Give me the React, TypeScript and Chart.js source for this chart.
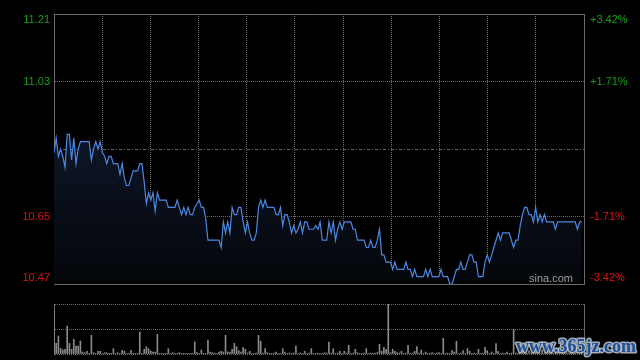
import React, { useEffect, useRef } from "react";
import { Chart, registerables } from "chart.js";

Chart.register(...registerables);

// minute index of the trading day (0..240)
const minutes: number[] = Array.from({ length: 241 }, (_, i) => i);

const prices: number[] = [
  10.83, 10.87, 10.82, 10.84, 10.82, 10.79, 10.88, 10.88, 10.81, 10.87,
  10.80, 10.84, 10.86, 10.86, 10.86, 10.86, 10.86, 10.81, 10.84, 10.86,
  10.84, 10.86, 10.83, 10.82, 10.80, 10.82, 10.82, 10.80, 10.80, 10.80,
  10.77, 10.80, 10.76, 10.74, 10.74, 10.76, 10.78, 10.78, 10.78, 10.80,
  10.80, 10.75, 10.69, 10.72, 10.70, 10.72, 10.67, 10.72, 10.70, 10.70,
  10.70, 10.70, 10.68, 10.68, 10.68, 10.68, 10.70, 10.68, 10.66, 10.68,
  10.66, 10.68, 10.66, 10.66, 10.68, 10.69, 10.70, 10.68, 10.68, 10.65,
  10.59, 10.59, 10.59, 10.59, 10.59, 10.59, 10.57, 10.64, 10.61, 10.64,
  10.61, 10.68, 10.66, 10.66, 10.68, 10.68, 10.64, 10.61, 10.64, 10.61,
  10.59, 10.59, 10.61, 10.68, 10.70, 10.68, 10.70, 10.68, 10.68, 10.68,
  10.68, 10.66, 10.66, 10.68, 10.63, 10.66, 10.66, 10.64, 10.61, 10.63,
  10.61, 10.62, 10.64, 10.61, 10.64, 10.64, 10.62, 10.62, 10.62, 10.63,
  10.62, 10.64, 10.59, 10.59, 10.59, 10.64, 10.61, 10.64, 10.59, 10.62,
  10.64, 10.62, 10.64, 10.64, 10.64, 10.64, 10.62, 10.62, 10.59, 10.59,
  10.59, 10.59, 10.57, 10.57, 10.59, 10.57, 10.57, 10.59, 10.62, 10.55,
  10.55, 10.53, 10.53, 10.53, 10.51, 10.53, 10.51, 10.51, 10.51, 10.51,
  10.53, 10.51, 10.51, 10.49, 10.51, 10.49, 10.49, 10.49, 10.49, 10.51,
  10.49, 10.51, 10.49, 10.49, 10.49, 10.49, 10.51, 10.49, 10.49, 10.49,
  10.47, 10.47, 10.49, 10.51, 10.51, 10.53, 10.51, 10.51, 10.53, 10.55,
  10.55, 10.53, 10.53, 10.49, 10.49, 10.49, 10.53, 10.55, 10.53, 10.55,
  10.57, 10.59, 10.61, 10.59, 10.61, 10.61, 10.61, 10.61, 10.59, 10.57,
  10.59, 10.59, 10.63, 10.66, 10.68, 10.68, 10.66, 10.66, 10.64, 10.68,
  10.64, 10.66, 10.64, 10.66, 10.64, 10.64, 10.64, 10.64, 10.62, 10.64,
  10.64, 10.64, 10.64, 10.64, 10.64, 10.64, 10.64, 10.64, 10.62, 10.64,
  10.64,
];

const volumes: number[] = [
  132, 32, 54, 17, 12, 14, 84, 32, 14, 44,
  24, 24, 39, 6, 4, 8, 2, 56, 4, 2,
  8, 8, 2, 4, 4, 2, 2, 16, 2, 4,
  2, 11, 8, 2, 2, 11, 2, 2, 2, 66,
  2, 14, 22, 16, 9, 6, 6, 59, 2, 2,
  2, 2, 16, 2, 4, 2, 2, 4, 2, 2,
  2, 2, 2, 2, 36, 4, 2, 12, 2, 2,
  42, 6, 4, 3, 2, 6, 8, 6, 56, 6,
  6, 14, 32, 22, 10, 6, 19, 14, 3, 8,
  2, 2, 3, 56, 38, 3, 16, 4, 2, 2,
  3, 6, 2, 2, 16, 6, 2, 3, 2, 3,
  24, 2, 3, 2, 8, 2, 3, 16, 2, 2,
  3, 2, 2, 4, 3, 36, 3, 16, 2, 3,
  8, 2, 8, 3, 26, 2, 3, 14, 4, 2,
  2, 3, 16, 2, 3, 2, 3, 4, 29, 8,
  20, 14, 150, 4, 14, 8, 4, 3, 8, 2,
  3, 26, 2, 3, 8, 22, 3, 12, 2, 6,
  2, 3, 4, 2, 3, 4, 2, 47, 2, 3,
  2, 10, 6, 38, 2, 3, 10, 2, 16, 8,
  2, 3, 2, 14, 2, 3, 20, 10, 2, 6,
  2, 31, 8, 2, 3, 2, 6, 2, 3, 74,
  3, 2, 4, 8, 3, 2, 10, 3, 4, 6,
  2, 3, 12, 2, 3, 4, 6, 2, 3, 2,
  8, 3, 2, 4, 3, 5, 2, 3, 4, 2,
  10,
];

const prevClose = 10.84;
const priceTicks: number[] = [10.47, 10.655, 10.84, 11.025, 11.21];
const leftLabels: string[] = ["10.47", "10.65", "", "11.03", "11.21"];
const rightLabels: string[] = ["-3.42%", "-1.71%", "", "+1.71%", "+3.42%"];
const xMax = 241;
const xDivisions = 11;
const volumeMax = 150;
const volumeTicks: number[] = [0, 75, 150];

const GREEN = "#14a014";
const RED = "#e01414";
const GRID = "#6a6a6a";
const LINE = "#4a88e2";
const FONT = '11px "Liberation Sans", Arial, sans-serif';

const sideLabels = {
  id: "sideLabels",
  afterDraw(chart: any) {
    const { ctx, chartArea } = chart;
    const ys = chart.scales.y;
    ctx.save();
    ctx.font = FONT;
    ctx.textBaseline = "middle";
    priceTicks.forEach((v, k) => {
      if (!leftLabels[k]) return;
      let y = ys.getPixelForValue(v);
      y = Math.min(Math.max(y, chartArea.top + 6), chartArea.bottom - 6.5);
      ctx.fillStyle = v > prevClose ? GREEN : RED;
      ctx.textAlign = "right";
      ctx.fillText(leftLabels[k], chartArea.left - 4, y);
      ctx.textAlign = "left";
      ctx.fillText(rightLabels[k], chartArea.right + 6, y);
    });
    ctx.fillStyle = "#9c9c9c";
    ctx.textAlign = "right";
    ctx.fillText("sina.com", chartArea.right - 11, chartArea.bottom - 5);
    ctx.restore();
  },
};

const watermark = {
  id: "watermark",
  afterDraw(chart: any) {
    const { ctx } = chart;
    ctx.save();
    ctx.font = 'bold 18px "Liberation Serif", serif';
    ctx.textBaseline = "alphabetic";
    ctx.textAlign = "left";
    ctx.lineJoin = "round";
    ctx.lineWidth = 3;
    ctx.strokeStyle = "rgba(190,200,210,0.85)";
    ctx.strokeText("www.365jz.com", 516, 62);
    ctx.fillStyle = "#1f4f98";
    ctx.fillText("www.365jz.com", 516, 62);
    ctx.restore();
  },
};

const xGridTicks = () =>
  Array.from({ length: xDivisions + 1 }, (_, k) => ({ value: (k * xMax) / xDivisions }));

export default function App() {
  const priceRef = useRef<HTMLCanvasElement | null>(null);
  const volRef = useRef<HTMLCanvasElement | null>(null);

  useEffect(() => {
    document.body.style.margin = "0";
    document.body.style.background = "#000";

    const priceChart = new Chart(priceRef.current as HTMLCanvasElement, {
      type: "line",
      data: {
        datasets: [
          {
            data: prices.map((p, i) => ({ x: minutes[i], y: p })),
            borderColor: LINE,
            borderWidth: 1.2,
            pointRadius: 0,
            tension: 0,
            fill: "start",
            backgroundColor: (c: any) => {
              const ca = c.chart.chartArea;
              if (!ca) return "rgba(0,0,0,0)";
              const g = c.chart.ctx.createLinearGradient(0, ca.top, 0, ca.bottom);
              g.addColorStop(0, "#16233f");
              g.addColorStop(1, "#04060a");
              return g;
            },
          },
        ],
      },
      options: {
        animation: false,
        responsive: false,
        events: [],
        layout: { padding: { left: 54, right: 56, top: 14, bottom: 6 } },
        plugins: { legend: { display: false }, tooltip: { enabled: false } },
        scales: {
          x: {
            type: "linear",
            min: 0,
            max: xMax,
            afterBuildTicks: (s: any) => {
              s.ticks = xGridTicks();
            },
            ticks: { display: false },
            grid: { color: GRID, drawTicks: false, lineWidth: 1 },
            border: {
              display: true,
              color: GRID,
              dash: (c: any) => (c.index === 0 || c.index === xDivisions ? [] : [1, 1]),
            },
          },
          y: {
            min: priceTicks[0],
            max: priceTicks[priceTicks.length - 1],
            afterBuildTicks: (s: any) => {
              s.ticks = priceTicks.map((v) => ({ value: v }));
            },
            ticks: { display: false },
            grid: { color: GRID, drawTicks: false, lineWidth: 1 },
            border: {
              display: true,
              color: GRID,
              dash: (c: any) =>
                c.index === 0 || c.index === priceTicks.length - 1
                  ? []
                  : c.index === 2
                  ? [3, 2, 1, 2]
                  : [1, 1],
            },
          },
        },
      },
      plugins: [sideLabels],
    } as any);

    const volChart = new Chart(volRef.current as HTMLCanvasElement, {
      type: "bar",
      data: {
        datasets: [
          {
            data: volumes.map((v, i) => ({ x: minutes[i], y: v })),
            backgroundColor: "#8a8a8a",
            barThickness: 1,
          },
        ],
      },
      options: {
        animation: false,
        responsive: false,
        events: [],
        layout: { padding: { left: 54, right: 56, top: 14, bottom: 6 } },
        plugins: { legend: { display: false }, tooltip: { enabled: false } },
        scales: {
          x: {
            type: "linear",
            min: 0,
            max: xMax,
            offset: false,
            afterBuildTicks: (s: any) => {
              s.ticks = [{ value: 0 }, { value: xMax }];
            },
            ticks: { display: false },
            grid: { color: GRID, drawTicks: false, offset: false },
            border: { display: false },
          },
          y: {
            min: 0,
            max: volumeMax,
            afterBuildTicks: (s: any) => {
              s.ticks = volumeTicks.map((v) => ({ value: v }));
            },
            ticks: { display: false },
            grid: { color: GRID, drawTicks: false },
            border: { display: true, color: GRID, dash: [1, 1] },
          },
        },
      },
      plugins: [watermark],
    } as any);

    return () => {
      priceChart.destroy();
      volChart.destroy();
    };
  }, []);

  return (
    <div
      style={{
        position: "fixed",
        left: 0,
        top: 0,
        width: 640,
        height: 360,
        background: "#000",
        overflow: "hidden",
      }}
    >
      <canvas
        ref={priceRef}
        width={640}
        height={290}
        style={{ position: "absolute", left: 0, top: 0, width: 640, height: 290 }}
      />
      <canvas
        ref={volRef}
        width={640}
        height={70}
        style={{ position: "absolute", left: 0, top: 290, width: 640, height: 70 }}
      />
    </div>
  );
}
